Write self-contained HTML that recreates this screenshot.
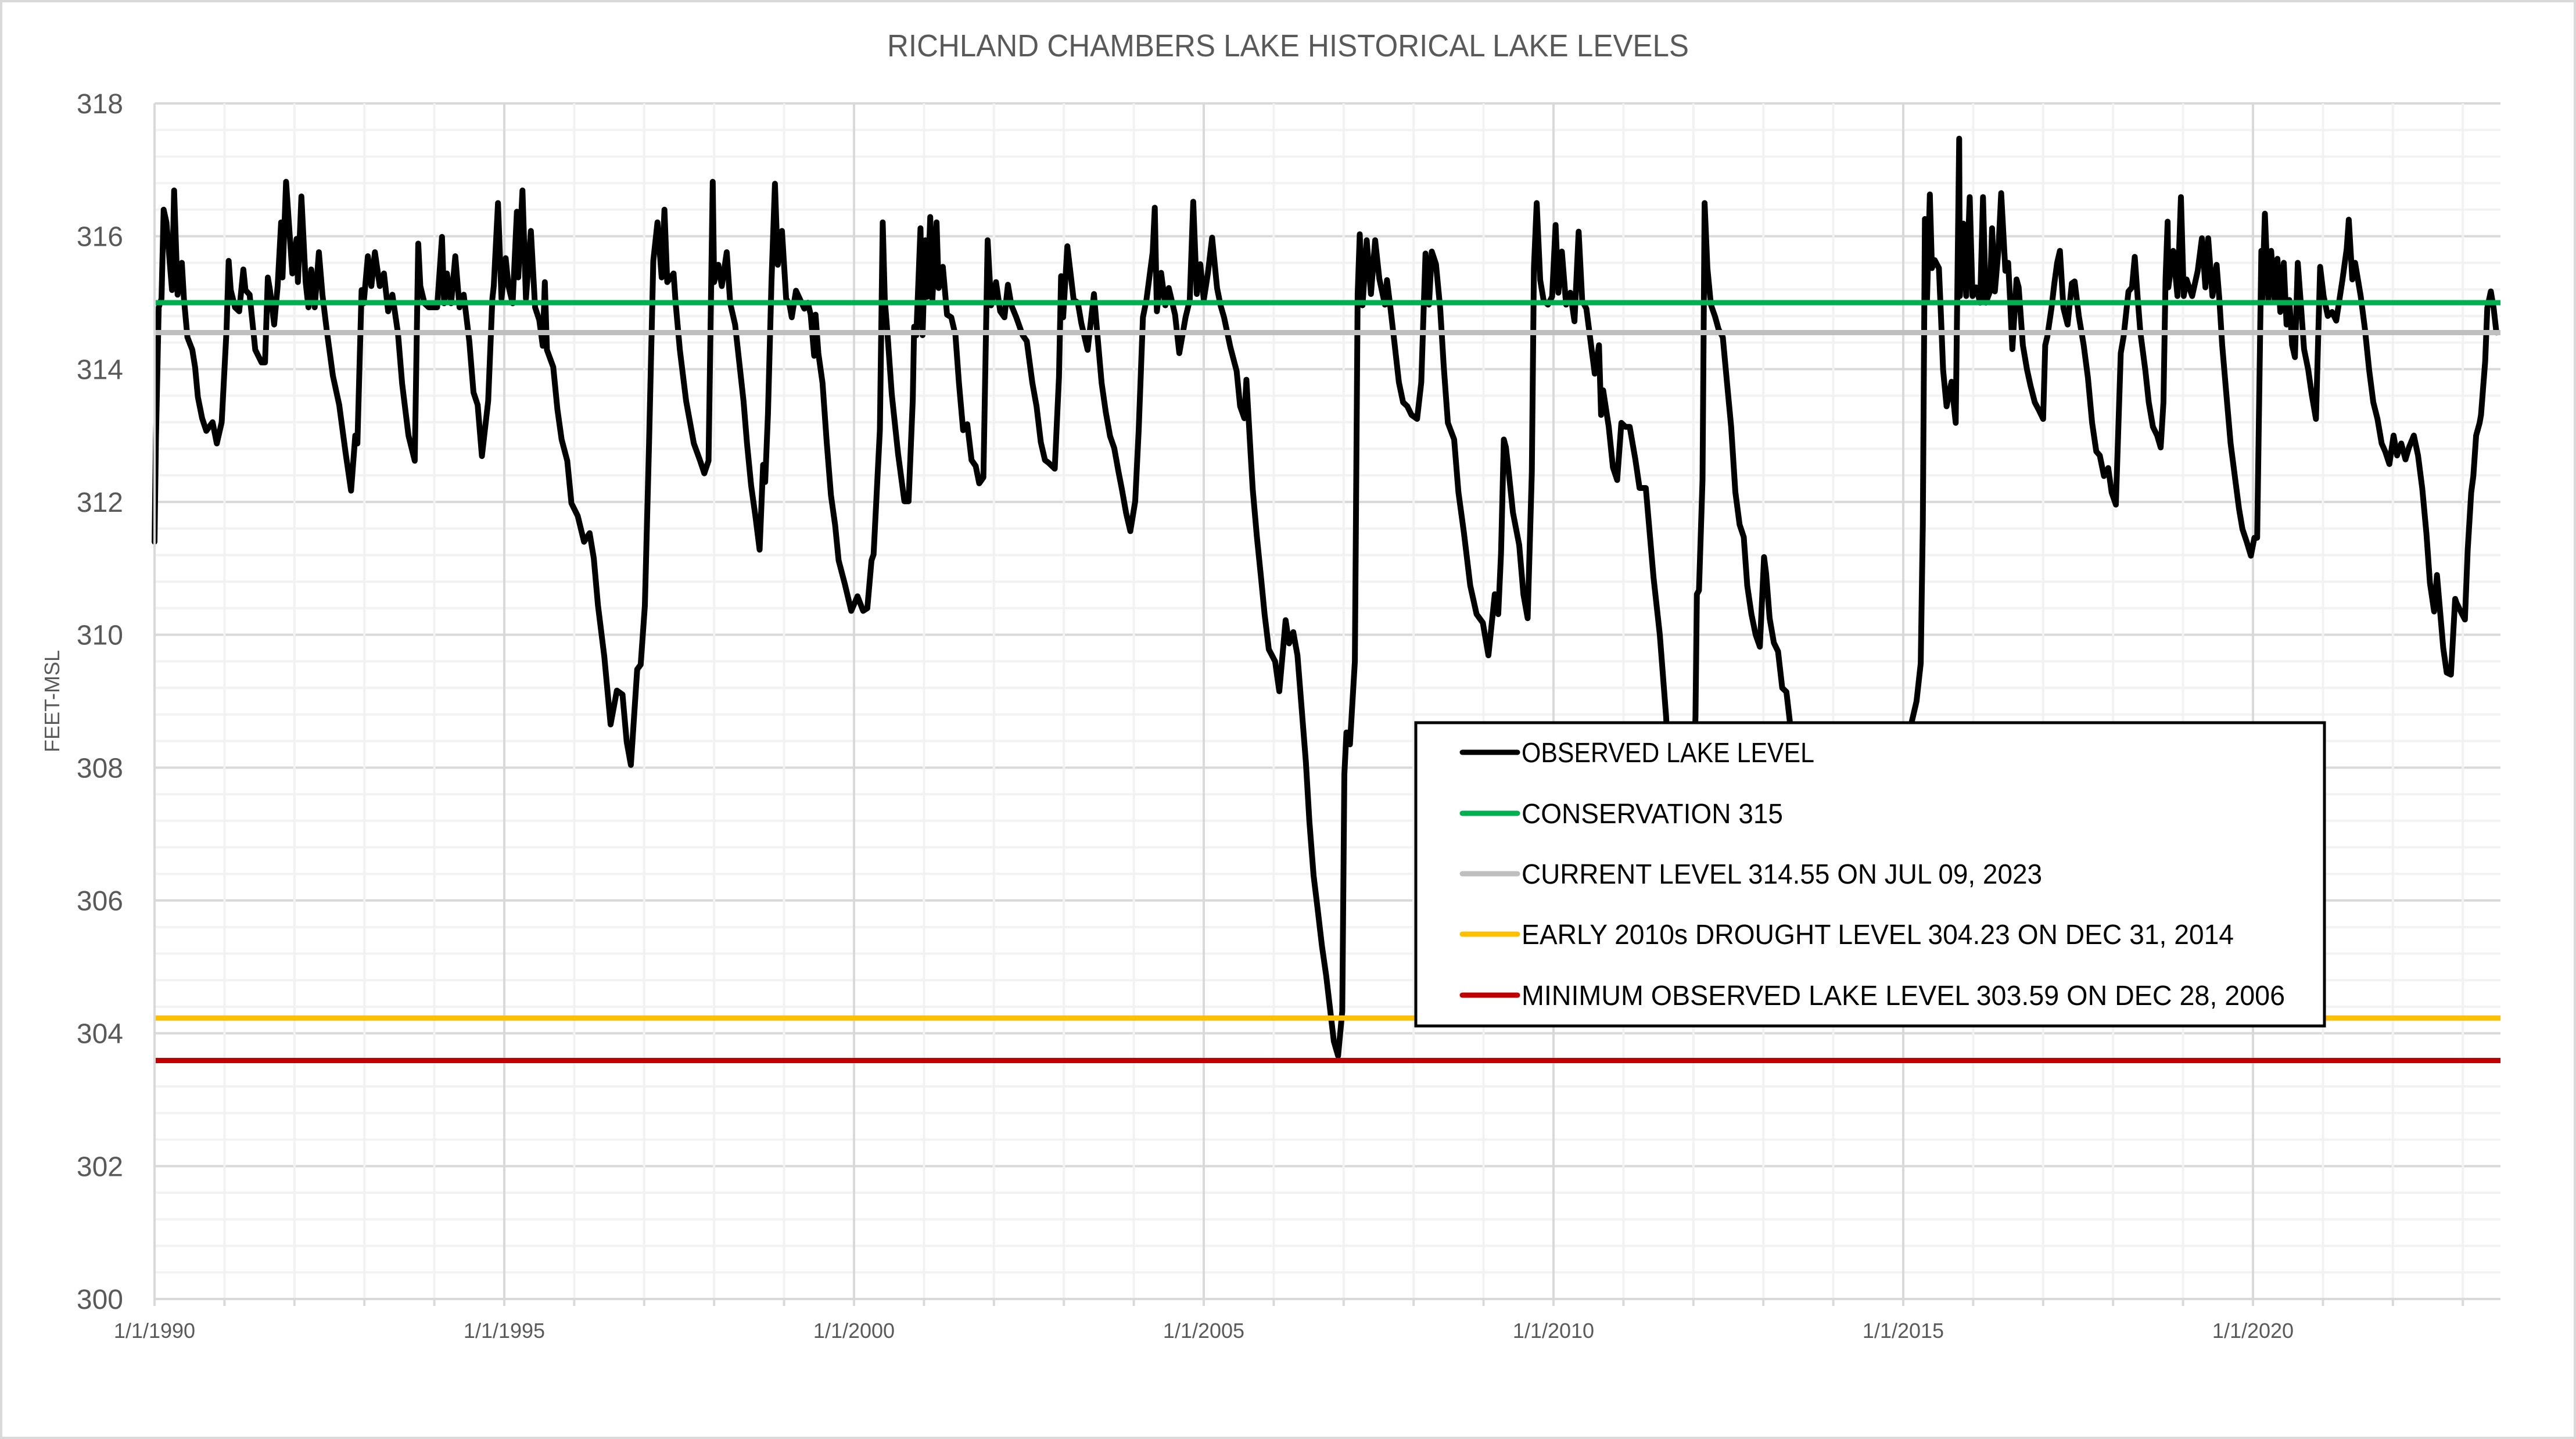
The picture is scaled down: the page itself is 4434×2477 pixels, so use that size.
<!DOCTYPE html>
<html><head><meta charset="utf-8"><style>
html,body{margin:0;padding:0;background:#fff;}
svg{display:block;font-family:"Liberation Sans",sans-serif;}
</style></head><body>
<svg id="chart" width="4434" height="2477" viewBox="0 0 4434 2477" xmlns="http://www.w3.org/2000/svg">
<rect x="2" y="2" width="4430" height="2473" fill="#fff" stroke="#d9d9d9" stroke-width="4"/>
<text x="2217" y="97" text-anchor="middle" font-size="54" fill="#595959" textLength="1380" lengthAdjust="spacingAndGlyphs">RICHLAND CHAMBERS LAKE HISTORICAL LAKE LEVELS</text>
<g id="grid"></g>
<g id="refs"></g>
<g id="series"></g>
<g id="axes"></g>
<text transform="translate(102,1207) rotate(-90)" text-anchor="middle" font-size="36" fill="#595959">FEET-MSL</text>
<g>
<rect x="2437" y="1244" width="1564" height="522" fill="#fff" stroke="#000" stroke-width="5"/>
<g><line x1="2517" y1="1295" x2="2612" y2="1295" stroke="#000" stroke-width="9" stroke-linecap="round"/><text x="2619" y="1312" font-size="48" fill="#000" textLength="504" lengthAdjust="spacingAndGlyphs">OBSERVED LAKE LEVEL</text></g>
<g><line x1="2517" y1="1400" x2="2612" y2="1400" stroke="#00b050" stroke-width="9" stroke-linecap="round"/><text x="2619" y="1417" font-size="48" fill="#000" textLength="450" lengthAdjust="spacingAndGlyphs">CONSERVATION 315</text></g>
<g><line x1="2517" y1="1504" x2="2612" y2="1504" stroke="#bfbfbf" stroke-width="9" stroke-linecap="round"/><text x="2619" y="1521" font-size="48" fill="#000" textLength="896" lengthAdjust="spacingAndGlyphs">CURRENT LEVEL 314.55 ON JUL 09, 2023</text></g>
<g><line x1="2517" y1="1608" x2="2612" y2="1608" stroke="#ffc000" stroke-width="9" stroke-linecap="round"/><text x="2619" y="1625" font-size="48" fill="#000" textLength="1226" lengthAdjust="spacingAndGlyphs">EARLY 2010s DROUGHT LEVEL 304.23 ON DEC 31, 2014</text></g>
<g><line x1="2517" y1="1713" x2="2612" y2="1713" stroke="#c00000" stroke-width="9" stroke-linecap="round"/><text x="2619" y="1730" font-size="48" fill="#000" textLength="1314" lengthAdjust="spacingAndGlyphs">MINIMUM OBSERVED LAKE LEVEL 303.59 ON DEC 28, 2006</text></g>
</g>
</svg>
<script>
const yTicks=[300,302,304,306,308,310,312,314,316,318];
const xTickYears=[1990,1995,2000,2005,2010,2015,2020];
const xTickLabels=["1/1/1990","1/1/1995","1/1/2000","1/1/2005","1/1/2010","1/1/2015","1/1/2020"];
const refNames=["conservation-line","current-level-line","drought-level-line","minimum-level-line"];
const refValues=[315,314.55,304.23,303.59];
const refColors=["#00b050","#bfbfbf","#ffc000","#c00000"];
const obsYears=[1990.0,1990.02,1990.06,1990.10,1990.13,1990.17,1990.25,1990.28,1990.33,1990.39,1990.42,1990.47,1990.54,1990.58,1990.62,1990.68,1990.74,1990.83,1990.89,1990.96,1991.03,1991.06,1991.09,1991.15,1991.21,1991.27,1991.30,1991.36,1991.44,1991.53,1991.58,1991.62,1991.65,1991.71,1991.76,1991.81,1991.83,1991.88,1991.97,1992.03,1992.05,1992.10,1992.16,1992.20,1992.24,1992.29,1992.35,1992.40,1992.46,1992.55,1992.64,1992.73,1992.81,1992.87,1992.90,1992.96,1992.99,1993.05,1993.10,1993.15,1993.22,1993.28,1993.34,1993.40,1993.48,1993.54,1993.63,1993.72,1993.77,1993.80,1993.86,1993.92,1994.04,1994.11,1994.14,1994.18,1994.24,1994.30,1994.36,1994.42,1994.50,1994.56,1994.62,1994.68,1994.77,1994.83,1994.85,1994.91,1994.96,1995.02,1995.06,1995.12,1995.18,1995.20,1995.26,1995.31,1995.38,1995.44,1995.50,1995.55,1995.58,1995.61,1995.70,1995.76,1995.82,1995.90,1995.96,1996.05,1996.14,1996.22,1996.28,1996.34,1996.43,1996.52,1996.61,1996.69,1996.75,1996.81,1996.90,1996.95,1997.01,1997.07,1997.13,1997.19,1997.25,1997.29,1997.33,1997.42,1997.45,1997.51,1997.60,1997.71,1997.80,1997.86,1997.92,1997.98,1998.00,1998.06,1998.11,1998.18,1998.23,1998.30,1998.36,1998.42,1998.47,1998.53,1998.59,1998.65,1998.70,1998.73,1998.77,1998.82,1998.87,1998.91,1998.97,1999.03,1999.08,1999.11,1999.17,1999.29,1999.34,1999.38,1999.43,1999.45,1999.49,1999.55,1999.61,1999.67,1999.73,1999.78,1999.87,1999.96,2000.05,2000.13,2000.19,2000.25,2000.28,2000.37,2000.41,2000.44,2000.48,2000.54,2000.63,2000.72,2000.78,2000.84,2000.86,2000.89,2000.95,2000.98,2001.02,2001.05,2001.09,2001.12,2001.18,2001.21,2001.27,2001.33,2001.39,2001.45,2001.50,2001.56,2001.62,2001.68,2001.74,2001.79,2001.85,2001.91,2001.96,2002.03,2002.09,2002.15,2002.20,2002.25,2002.32,2002.41,2002.47,2002.55,2002.61,2002.67,2002.73,2002.78,2002.87,2002.93,2002.96,2002.99,2003.05,2003.14,2003.20,2003.25,2003.34,2003.43,2003.48,2003.54,2003.60,2003.66,2003.72,2003.78,2003.83,2003.89,2003.95,2004.02,2004.07,2004.13,2004.18,2004.27,2004.30,2004.33,2004.39,2004.45,2004.50,2004.59,2004.65,2004.74,2004.80,2004.85,2004.90,2004.95,2005.00,2005.06,2005.12,2005.19,2005.24,2005.29,2005.38,2005.47,2005.52,2005.58,2005.61,2005.67,2005.70,2005.76,2005.82,2005.87,2005.93,2006.02,2006.08,2006.17,2006.22,2006.28,2006.34,2006.40,2006.46,2006.51,2006.57,2006.63,2006.69,2006.75,2006.81,2006.86,2006.92,2006.98,2007.01,2007.04,2007.09,2007.16,2007.20,2007.23,2007.27,2007.33,2007.39,2007.45,2007.51,2007.59,2007.62,2007.67,2007.73,2007.79,2007.85,2007.91,2007.97,2008.05,2008.11,2008.14,2008.17,2008.22,2008.26,2008.32,2008.38,2008.43,2008.49,2008.58,2008.64,2008.72,2008.81,2008.90,2008.99,2009.07,2009.16,2009.21,2009.25,2009.29,2009.32,2009.36,2009.42,2009.51,2009.57,2009.63,2009.69,2009.72,2009.76,2009.81,2009.86,2009.92,2009.98,2010.03,2010.07,2010.12,2010.18,2010.24,2010.30,2010.36,2010.41,2010.47,2010.53,2010.59,2010.65,2010.68,2010.71,2010.79,2010.85,2010.91,2010.97,2011.03,2011.09,2011.17,2011.23,2011.32,2011.37,2011.43,2011.52,2011.61,2011.67,2011.75,2011.85,2011.95,2012.00,2012.03,2012.05,2012.08,2012.13,2012.16,2012.20,2012.25,2012.31,2012.36,2012.42,2012.48,2012.54,2012.60,2012.66,2012.72,2012.77,2012.83,2012.89,2012.95,2013.01,2013.04,2013.09,2013.15,2013.21,2013.27,2013.33,2013.38,2013.44,2013.60,2013.80,2014.00,2014.20,2014.40,2014.60,2014.80,2014.99,2015.05,2015.12,2015.19,2015.25,2015.28,2015.31,2015.34,2015.38,2015.41,2015.45,2015.51,2015.54,2015.57,2015.62,2015.69,2015.75,2015.80,2015.81,2015.86,2015.90,2015.95,2015.99,2016.04,2016.10,2016.14,2016.18,2016.24,2016.27,2016.31,2016.36,2016.40,2016.46,2016.50,2016.53,2016.56,2016.62,2016.65,2016.71,2016.77,2016.82,2016.88,2016.94,2017.00,2017.03,2017.06,2017.12,2017.16,2017.20,2017.24,2017.29,2017.35,2017.41,2017.45,2017.51,2017.58,2017.64,2017.70,2017.76,2017.81,2017.87,2017.93,2017.98,2018.04,2018.11,2018.15,2018.22,2018.27,2018.31,2018.35,2018.39,2018.46,2018.51,2018.57,2018.63,2018.68,2018.72,2018.75,2018.78,2018.79,2018.86,2018.92,2018.97,2019.01,2019.05,2019.13,2019.21,2019.27,2019.32,2019.36,2019.42,2019.48,2019.52,2019.56,2019.62,2019.68,2019.74,2019.80,2019.85,2019.91,2019.97,2020.02,2020.06,2020.12,2020.13,2020.17,2020.22,2020.26,2020.31,2020.35,2020.39,2020.44,2020.48,2020.52,2020.56,2020.60,2020.64,2020.68,2020.73,2020.79,2020.84,2020.90,2020.96,2021.01,2021.07,2021.13,2021.19,2021.28,2021.34,2021.37,2021.42,2021.46,2021.54,2021.60,2021.66,2021.72,2021.78,2021.84,2021.89,2021.95,2022.01,2022.06,2022.12,2022.18,2022.23,2022.30,2022.36,2022.42,2022.48,2022.53,2022.59,2022.63,2022.68,2022.72,2022.77,2022.83,2022.89,2022.91,2022.97,2023.03,2023.07,2023.12,2023.15,2023.19,2023.24,2023.26,2023.32,2023.35,2023.40,2023.44,2023.48,2023.51];
const obsLevels=[311.40,312.94,314.93,315.06,316.40,316.21,315.19,316.69,315.12,315.60,315.06,314.48,314.29,314.03,313.58,313.26,313.07,313.20,312.88,313.20,314.60,315.63,315.19,314.93,314.87,315.50,315.19,315.12,314.29,314.10,314.10,315.38,315.19,314.67,315.25,316.21,315.38,316.82,315.44,315.96,315.31,316.60,315.31,314.93,315.50,314.93,315.76,315.12,314.60,313.90,313.46,312.75,312.17,313.00,312.88,315.19,314.99,315.70,315.25,315.76,315.25,315.44,314.87,315.12,314.54,313.78,313.00,312.62,315.89,315.25,314.99,314.93,314.93,315.99,314.99,315.44,314.99,315.70,314.93,315.12,314.42,313.65,313.46,312.69,313.52,315.06,315.25,316.50,315.06,315.67,315.25,314.99,316.37,315.38,316.69,315.06,316.08,314.93,314.74,314.35,315.31,314.29,314.03,313.39,312.94,312.62,311.98,311.79,311.40,311.53,311.15,310.44,309.67,308.65,309.16,309.10,308.39,308.04,309.48,309.55,310.44,312.88,315.63,316.21,315.38,316.40,315.31,315.44,314.99,314.29,313.52,312.88,312.62,312.43,312.62,316.82,315.31,315.57,315.25,315.76,314.99,314.67,314.10,313.52,312.88,312.24,311.79,311.28,312.56,312.30,313.33,315.31,316.79,315.57,316.08,315.06,314.96,314.78,315.18,314.91,315.00,314.82,314.20,314.82,314.24,313.79,312.90,312.10,311.65,311.12,310.76,310.36,310.58,310.36,310.40,311.12,311.21,313.08,316.21,315.04,314.51,313.62,312.72,312.01,312.01,313.53,314.64,314.51,316.12,314.51,315.94,315.09,316.29,315.04,316.21,315.22,315.54,314.82,314.78,314.51,313.79,313.08,313.17,312.63,312.54,312.28,312.37,315.94,314.96,315.31,314.87,314.78,315.27,314.96,314.78,314.51,314.42,313.79,313.44,312.90,312.63,312.59,312.50,313.88,315.40,314.78,315.85,315.04,315.00,314.69,314.29,315.13,314.51,313.79,313.35,312.99,312.81,312.46,312.19,311.83,311.56,312.01,313.08,314.78,315.04,315.76,316.43,314.87,315.45,314.96,315.22,314.82,314.24,314.78,315.04,316.52,315.13,315.58,315.04,315.45,315.98,315.22,314.96,314.78,314.33,313.97,313.44,313.26,313.84,312.72,312.19,311.47,310.85,310.31,309.78,309.60,309.15,310.22,309.87,310.04,309.69,308.88,308.08,307.19,306.38,305.85,305.31,304.87,304.33,303.88,303.66,304.33,307.90,308.53,308.35,309.60,315.13,316.03,314.96,315.94,315.13,315.94,315.36,314.97,315.34,314.91,314.36,313.80,313.50,313.44,313.31,313.25,313.80,314.79,315.74,314.97,315.77,315.58,314.91,314.05,313.19,312.94,312.15,311.53,310.74,310.31,310.18,309.69,310.61,310.31,311.23,312.94,312.82,312.45,311.84,311.35,310.61,310.25,312.45,315.52,316.50,315.34,315.03,314.97,315.09,316.17,315.15,315.77,314.97,315.15,314.72,316.07,315.03,314.91,314.42,313.93,314.36,313.31,313.68,313.13,312.52,312.33,313.19,313.13,313.13,312.64,312.21,312.21,311.60,310.86,310.00,308.77,307.50,306.60,306.20,306.80,307.80,308.77,310.61,310.67,312.33,316.50,315.52,314.97,314.79,314.60,314.48,313.80,313.13,312.15,311.66,311.47,310.74,310.31,310.00,309.82,311.17,310.92,310.25,309.88,309.75,309.20,309.14,308.68,307.90,307.40,307.00,306.60,305.90,305.20,304.60,304.23,305.50,307.50,308.68,309.00,309.57,311.66,316.26,315.03,316.63,315.52,315.64,315.52,314.79,313.99,313.44,313.81,313.19,317.47,315.10,316.19,315.10,316.59,315.10,315.23,315.00,316.59,315.00,315.17,316.12,315.17,315.78,316.65,315.48,315.60,315.00,314.30,315.35,315.23,314.36,313.99,313.75,313.50,313.38,313.25,314.36,314.49,314.92,315.29,315.60,315.78,314.92,314.67,315.29,315.32,314.80,314.36,313.87,313.19,312.76,312.70,312.39,312.51,312.14,311.96,314.24,314.49,315.17,315.23,315.69,315.10,314.55,313.99,313.50,313.13,313.00,312.82,313.50,315.35,316.22,315.23,315.78,315.10,316.59,315.10,315.35,315.10,315.48,315.97,315.23,315.97,315.10,315.57,315.04,314.36,313.62,312.88,312.39,311.90,311.59,311.40,311.19,311.46,311.46,315.78,315.00,316.34,315.04,315.78,315.04,315.66,314.86,315.60,314.67,315.04,314.36,314.18,315.60,315.04,314.30,313.99,313.62,313.25,315.54,315.10,314.80,314.86,314.73,315.35,315.81,316.25,315.35,315.60,315.10,314.61,313.99,313.50,313.25,312.88,312.76,312.57,313.00,312.70,312.88,312.64,312.82,313.00,312.70,312.20,311.52,310.78,310.35,310.90,310.29,309.80,309.43,309.40,310.54,310.48,310.35,310.23,311.28,312.14,312.39,313.00,313.19,313.31,314.12,314.92,315.17,314.92,314.55];

const NS="http://www.w3.org/2000/svg";
const X0=266, PXY=120.4, XEND=4304, YTOP=178, YBOT=2236, YMIN=300, YMAX=318;
function xs(yr){return X0+(yr-1990)*PXY;}
function ys(v){return YBOT-(v-YMIN)/(YMAX-YMIN)*(YBOT-YTOP);}
function mk(tag,attrs,parent){const e=document.createElementNS(NS,tag);for(const k in attrs)e.setAttribute(k,attrs[k]);parent.appendChild(e);return e;}

const grid=document.getElementById('grid');
for(let v=YMIN;v<=YMAX+0.001;v+=0.4){
  const major=Math.abs((v-YMIN)/2-Math.round((v-YMIN)/2))<0.01;
  const l=mk('line',{x1:X0,x2:XEND,y1:ys(v),y2:ys(v),stroke:major?'#d9d9d9':'#f2f2f2','stroke-width':4},grid);
  
  
}
for(let y=1990;xs(y)<=XEND;y++){
  const major=(y%5===0);
  const l=mk('line',{x1:xs(y),x2:xs(y),y1:YTOP,y2:YBOT,stroke:major?'#d9d9d9':'#f2f2f2','stroke-width':4},grid);
  
  
  const t=mk('line',{x1:xs(y),x2:xs(y),y1:YBOT,y2:YBOT+12,stroke:'#d9d9d9','stroke-width':4},grid);
  
  
}
const axes=document.getElementById('axes');
const xa=mk('line',{x1:X0,x2:XEND,y1:YBOT,y2:YBOT,stroke:'#d9d9d9','stroke-width':4},axes);


const ya=mk('line',{x1:X0,x2:X0,y1:YTOP,y2:YBOT+12,stroke:'#d9d9d9','stroke-width':4},axes);


yTicks.forEach(v=>{
  const t=mk('text',{x:212,y:ys(v)+17,'text-anchor':'end','font-size':48,fill:'#595959'},axes);
  t.textContent=String(v);
  
  
});
xTickYears.forEach((yr,i)=>{
  const t=mk('text',{x:xs(yr),y:2303,'text-anchor':'middle','font-size':36,fill:'#595959'},axes);
  t.textContent=xTickLabels[i];
  
  
});
const refs=document.getElementById('refs');
refValues.forEach((v,i)=>{
  const l=mk('line',{x1:X0,x2:XEND,y1:ys(v),y2:ys(v),stroke:refColors[i],'stroke-width':9},refs);
  
  
});
const series=document.getElementById('series');
let d='';
obsYears.forEach((yr,i)=>{d+=(i?'L':'M')+xs(yr).toFixed(1)+','+ys(obsLevels[i]).toFixed(1);});
const p=mk('path',{d:d,fill:'none',stroke:'#000','stroke-width':10,'stroke-linejoin':'round','stroke-linecap':'round'},series);


series.parentNode.insertBefore(series,refs);
</script>
</body></html>
